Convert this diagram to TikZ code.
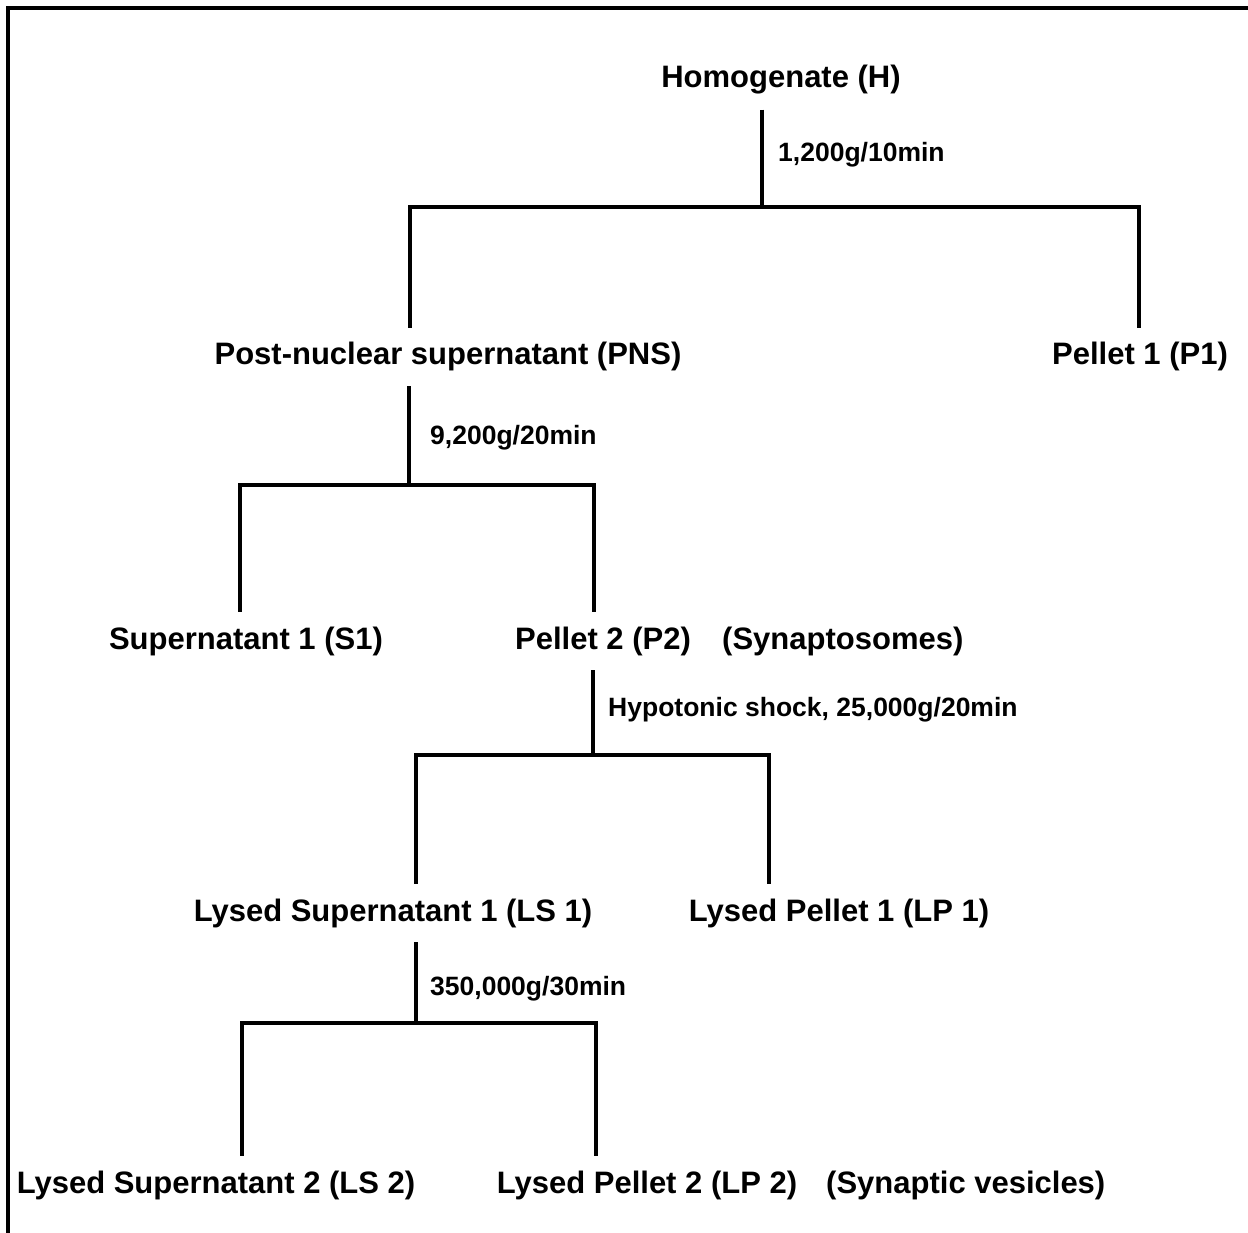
\documentclass[tikz,border=0pt]{standalone}
\usepackage{fontspec}
\setmainfont{Liberation Sans}
\usetikzlibrary{positioning}

\begin{document}
\begin{tikzpicture}[x=1pt,y=-1pt,
  item/.style={font=\fontsize{31}{36}\selectfont\bfseries,inner sep=0pt,outer sep=15pt,anchor=base},
  note/.style={font=\fontsize{31}{36}\selectfont\bfseries,inner sep=0pt,anchor=base west},
  spin/.style={font=\fontsize{26.5}{30}\selectfont\bfseries,inner sep=0pt,anchor=base west},
  branch/.style={line width=4pt}]
  \useasboundingbox (0,0) rectangle (1248,1233);
  % frame
  \draw[line width=4pt] (8,1233) -- (8,8) -- (1248,8);
  % fractions
  \node[item]  (h)    at (781,88)    {Homogenate (H)};
  \node[item]  (pns)  at (448,365)   {Post-nuclear supernatant (PNS)};
  \node[item]  (p1)   at (1140,365)  {Pellet 1 (P1)};
  \node[item]  (s1)   at (246,649)   {Supernatant 1 (S1)};
  \node[item]  (p2)   at (603,649)   {Pellet 2 (P2)};
  \node[note]  (syn)  at (722,649)   {(Synaptosomes)};
  \node[item]  (ls1)  at (393,921)   {Lysed Supernatant 1 (LS 1)};
  \node[item]  (lp1)  at (839,921)   {Lysed Pellet 1 (LP 1)};
  \node[item]  (ls2)  at (216,1193)  {Lysed Supernatant 2 (LS 2)};
  \node[item]  (lp2)  at (647,1193)  {Lysed Pellet 2 (LP 2)};
  \node[note]  (ves)  at (826,1193)  {(Synaptic vesicles)};
  % spins
  \node[spin]  (c1)   at (778,162)   {1,200g/10min};
  \node[spin]  (c2)   at (430,444)   {9,200g/20min};
  \node[spin]  (c3)   at (608,716)   {Hypotonic shock, 25,000g/20min};
  \node[spin]  (c4)   at (430,995)   {350,000g/30min};
  % joints
  \coordinate (j1) at (762,207);  \coordinate (a1) at (410,207);  \coordinate (b1) at (1139,207);
  \coordinate (j2) at (409,485);  \coordinate (a2) at (240,485);  \coordinate (b2) at (594,485);
  \coordinate (j3) at (593,755);  \coordinate (a3) at (416,755);  \coordinate (b3) at (769,755);
  \coordinate (j4) at (416,1023); \coordinate (a4) at (242,1023); \coordinate (b4) at (596,1023);
  % tree
  \draw[branch] (j1 |- h.south) -- (j1);
  \draw[branch] (a1 |- pns.north) -- (a1) -- (b1) -- (b1 |- p1.north);
  \draw[branch] (j2 |- pns.south) -- (j2);
  \draw[branch] (a2 |- s1.north) -- (a2) -- (b2) -- (b2 |- p2.north);
  \draw[branch] (j3 |- p2.south) -- (j3);
  \draw[branch] (a3 |- ls1.north) -- (a3) -- (b3) -- (b3 |- lp1.north);
  \draw[branch] (j4 |- ls1.south) -- (j4);
  \draw[branch] (a4 |- ls2.north) -- (a4) -- (b4) -- (b4 |- lp2.north);
\end{tikzpicture}
\end{document}
